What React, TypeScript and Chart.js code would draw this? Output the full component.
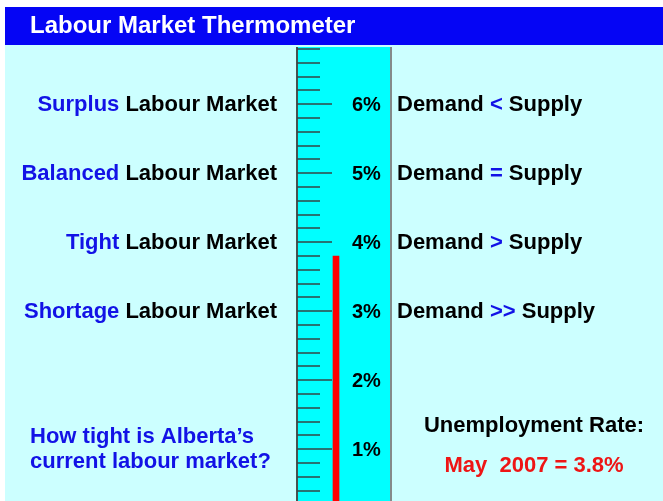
import { useEffect, useRef } from 'react';
import { Chart, registerables } from 'chart.js';

Chart.register(...registerables);

// ---- data ----
const categories = ['May 2007'];
const unemploymentRate = [3.8];
const scaleMin = 0.25;
const scaleMax = 6.83;
const minorStep = 0.2;
const percentTicks = [1, 2, 3, 4, 5, 6];
const marketLevels = [6, 5, 4, 3];
const marketTypes = ['Surplus', 'Balanced', 'Tight', 'Shortage'];
const demandSigns = ['<', '=', '>', '>>'];
const titleText = 'Labour Market Thermometer';
const questionLines = ['How tight is Alberta\u2019s', 'current labour market?'];
const rateTitle = 'Unemployment Rate:';

const FONT = "'Liberation Sans', Arial, sans-serif";
const BLUE = '#1212e6';
const RED = '#ee1515';

const thermoPlugin = {
  id: 'thermo',
  beforeDraw(chart: any) {
    const { ctx, chartArea, width, height } = chart;
    ctx.save();
    ctx.fillStyle = '#ffffff';
    ctx.fillRect(0, 0, width, height);
    ctx.fillStyle = '#ccffff';
    ctx.fillRect(5, 45, width - 5, height - 45);
    ctx.fillStyle = '#0505f5';
    ctx.fillRect(5, 7, width - 5, 38);
    ctx.fillStyle = '#ffffff';
    ctx.font = `bold 24px ${FONT}`;
    ctx.textAlign = 'left';
    ctx.textBaseline = 'alphabetic';
    ctx.fillText(titleText, 30, 33);
    // tube
    const tubeRight = chartArea.right + 16;
    ctx.fillStyle = '#00ffff';
    ctx.fillRect(chartArea.left, chartArea.top, tubeRight - chartArea.left, chartArea.bottom - chartArea.top);
    ctx.lineWidth = 2;
    ctx.strokeStyle = '#48524f';
    ctx.beginPath();
    ctx.moveTo(chartArea.left, chartArea.top);
    ctx.lineTo(chartArea.left, chartArea.bottom);
    ctx.stroke();
    ctx.strokeStyle = '#858a8a';
    ctx.beginPath();
    ctx.moveTo(tubeRight, chartArea.top);
    ctx.lineTo(tubeRight, chartArea.bottom);
    ctx.stroke();
    ctx.restore();
  },
  beforeDatasetsDraw(chart: any) {
    const { ctx, chartArea } = chart;
    const y = chart.scales.y;
    ctx.save();
    ctx.strokeStyle = '#344646';
    ctx.lineWidth = 1.5;
    const first = Math.ceil(scaleMin / minorStep);
    const last = Math.floor(scaleMax / minorStep);
    for (let i = first; i <= last; i++) {
      const v = i * minorStep;
      const major = i % 5 === 0;
      const py = Math.round(y.getPixelForValue(v));
      ctx.beginPath();
      ctx.moveTo(chartArea.left, py);
      ctx.lineTo(chartArea.left + (major ? 35 : 23), py);
      ctx.stroke();
    }
    // percent labels
    ctx.fillStyle = '#000000';
    ctx.font = `bold 20px ${FONT}`;
    ctx.textAlign = 'left';
    ctx.textBaseline = 'middle';
    percentTicks.forEach((p) => {
      ctx.fillText(`${p}%`, chartArea.left + 55, y.getPixelForValue(p) + 1);
    });
    ctx.restore();
  },
  afterDraw(chart: any) {
    const { ctx, chartArea } = chart;
    const y = chart.scales.y;
    ctx.save();
    ctx.textBaseline = 'alphabetic';
    ctx.textAlign = 'left';
    ctx.font = `bold 22px ${FONT}`;
    const leftEdge = 277;
    const rightStart = chartArea.right + 16 + 6;
    marketLevels.forEach((lvl, i) => {
      const base = y.getPixelForValue(lvl) + 7;
      const blueWord = marketTypes[i];
      const rest = 'Labour Market';
      const wBlue = ctx.measureText(blueWord + ' ').width;
      const wAll = ctx.measureText(blueWord + ' ' + rest).width;
      const x0 = leftEdge - wAll;
      ctx.fillStyle = BLUE;
      ctx.fillText(blueWord, x0, base);
      ctx.fillStyle = '#000000';
      ctx.fillText(rest, x0 + wBlue, base);

      const a = 'Demand ';
      const s = demandSigns[i];
      const wa = ctx.measureText(a).width;
      const ws = ctx.measureText(s).width;
      ctx.fillStyle = '#000000';
      ctx.fillText(a, rightStart, base);
      ctx.fillStyle = BLUE;
      ctx.fillText(s, rightStart + wa, base);
      ctx.fillStyle = '#000000';
      ctx.fillText(' Supply', rightStart + wa + ws, base);
    });
    // question
    ctx.fillStyle = BLUE;
    ctx.fillText(questionLines[0], 30, 443);
    ctx.fillText(questionLines[1], 30, 468);
    // rate
    ctx.textAlign = 'center';
    ctx.fillStyle = '#000000';
    ctx.fillText(rateTitle, 534, 432);
    ctx.fillStyle = RED;
    const [month, year] = categories[0].split(' ');
    ctx.fillText(`${month}  ${year} = ${unemploymentRate[0]}%`, 534, 472);
    ctx.restore();
  },
};

export default function App() {
  const ref = useRef<HTMLCanvasElement | null>(null);
  useEffect(() => {
    document.body.style.margin = '0';
    const canvas = ref.current;
    if (!canvas) return;
    const chart = new Chart(canvas, {
      type: 'bar',
      data: {
        labels: categories,
        datasets: [
          {
            label: 'Unemployment rate',
            data: unemploymentRate,
            backgroundColor: '#ff0000',
            borderWidth: 0,
            barThickness: 6,
          },
        ],
      },
      options: {
        animation: false,
        responsive: false,
        devicePixelRatio: 1,
        layout: { padding: { left: 297, right: 288, top: 47, bottom: 0 } },
        plugins: { legend: { display: false }, tooltip: { enabled: false }, title: { display: false } },
        scales: {
          x: { display: false },
          y: {
            type: 'linear',
            display: false,
            min: scaleMin,
            max: scaleMax,
          },
        },
      },
      plugins: [thermoPlugin],
    });
    return () => chart.destroy();
  }, []);
  return <canvas ref={ref} width={663} height={501} style={{ display: 'block' }} />;
}
